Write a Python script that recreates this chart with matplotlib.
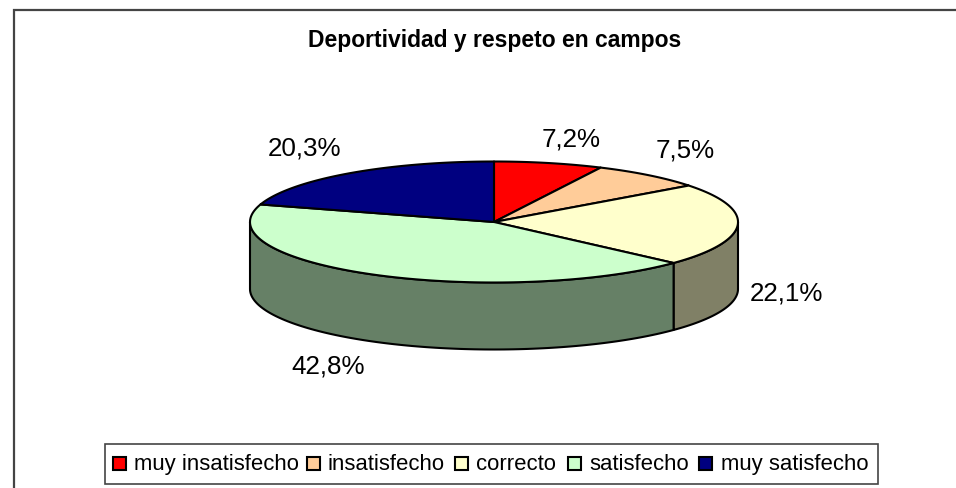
import numpy as np
import matplotlib.pyplot as plt
from matplotlib.colors import to_rgb
from matplotlib.patches import Polygon, Rectangle

plt.rcParams['font.family'] = ['Liberation Sans', 'DejaVu Sans']

# Data
labels = ['muy insatisfecho', 'insatisfecho', 'correcto', 'satisfecho', 'muy satisfecho']
values = [7.2, 7.5, 22.1, 42.8, 20.3]
colors = ['#ff0000', '#ffcc99', '#ffffcc', '#ccffcc', '#000080']
title = 'Deportividad y respeto en campos'

# Pie geometry in pixels
cx, cy = 494, 223
rx, ry = 244, 60.5
depth = 67

label_xy = [(571, 140), (685, 150.5), (786, 293), (328, 366.5), (304.5, 148.5)]
legend_swatch_x = [113, 307, 455, 568, 699]
legend_text_x = [134, 328, 476, 589, 721]


def rim(a0, a1, dy=0):
    # angles run clockwise from the top, in degrees
    t = np.radians(np.linspace(a0, a1, 120))
    return np.column_stack([cx + rx * np.sin(t), cy - ry * np.cos(t) + dy])


fig = plt.figure(figsize=(9.56, 4.89), dpi=100)
ax = fig.add_axes([0, 0, 1, 1])
ax.set_xlim(0, 956)
ax.set_ylim(489, 0)
ax.axis('off')

# Chart frame, cut off by the image at right and bottom
ax.plot([14, 14, 956], [489, 11, 11], color='#444444', lw=1.6, solid_joinstyle='miter')

ax.text(494.5, 40, title, ha='center', va='center', fontsize=16.5, fontweight='bold', color='black')

edges = np.concatenate([[0], np.cumsum(values)]) / sum(values) * 360

# Side wall, only the front half is visible
for i, color in enumerate(colors):
    a0, a1 = max(edges[i], 90), min(edges[i + 1], 270)
    if a1 <= a0:
        continue
    side = np.array(to_rgb(color)) * 0.5
    pts = np.vstack([rim(a0, a1), rim(a1, a0, depth)])
    ax.add_patch(Polygon(pts, closed=True, facecolor=side, edgecolor='black', lw=1.5, joinstyle='round'))

# Top face
for i, color in enumerate(colors):
    pts = np.vstack([[cx, cy], rim(edges[i], edges[i + 1])])
    ax.add_patch(Polygon(pts, closed=True, facecolor=color, edgecolor='black', lw=1.5, joinstyle='round'))

for v, (x, y) in zip(values, label_xy):
    ax.text(x, y, f'{v:.1f}%'.replace('.', ','), ha='center', va='center', fontsize=18.7, color='black')

# Legend
ax.add_patch(Rectangle((105.5, 444.5), 772.5, 40.5, facecolor='white', edgecolor='#444444', lw=1.2))
for name, color, sx, tx in zip(labels, colors, legend_swatch_x, legend_text_x):
    ax.add_patch(Rectangle((sx, 458), 13, 13, facecolor=color, edgecolor='black', lw=1.5))
    ax.text(tx, 464.5, name, ha='left', va='center', fontsize=15.9, color='black')

fig.savefig('out.png', dpi=100)
